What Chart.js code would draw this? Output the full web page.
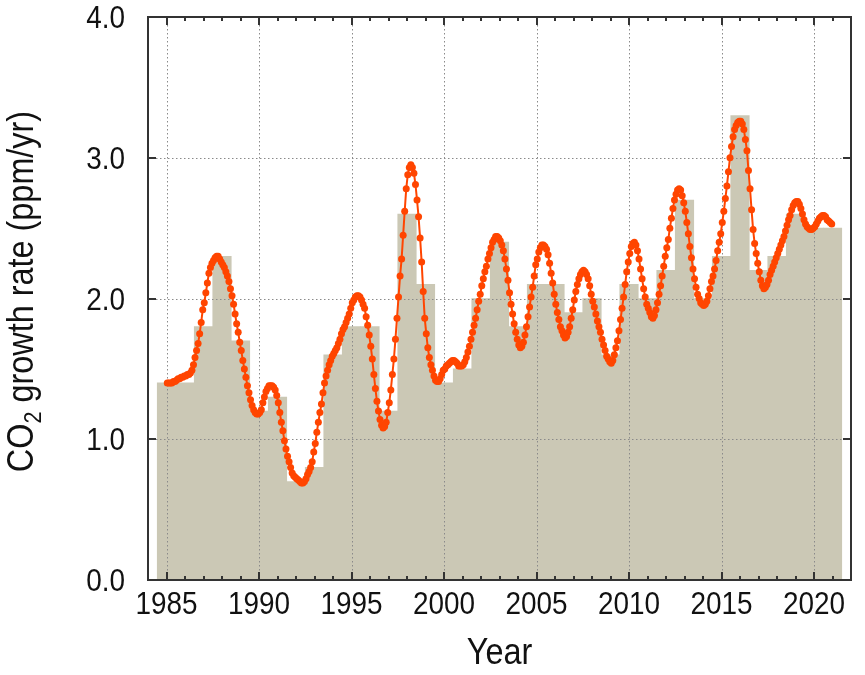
<!DOCTYPE html>
<html lang="en">
<head>
<meta charset="UTF-8">
<title>CO2 growth rate</title>
<style>
  html, body { margin: 0; padding: 0; background: #fff; }
  #wrap { position: relative; width: 865px; height: 675px; }
</style>
</head>
<body>
<div id="wrap"><canvas id="growth"></canvas></div>
<script src="https://cdn.jsdelivr.net/npm/chart.js"></script>
<script>
// annual growth rate, one bar per year (ppm/yr)
const years = [1985, 1986, 1987, 1988, 1989, 1990, 1991, 1992, 1993, 1994,
               1995, 1996, 1997, 1998, 1999, 2000, 2001, 2002, 2003, 2004,
               2005, 2006, 2007, 2008, 2009, 2010, 2011, 2012, 2013, 2014,
               2015, 2016, 2017, 2018, 2019, 2020, 2021];
const annualRate = [1.4, 1.4, 1.8, 2.3, 1.7, 1.2, 1.3, 0.7, 0.8, 1.6,
                    1.8, 1.8, 1.2, 2.6, 2.1, 1.4, 1.5, 2.0, 2.4, 1.8,
                    2.1, 2.1, 1.9, 2.0, 1.6, 2.1, 2.0, 2.2, 2.7, 2.0,
                    2.3, 3.3, 2.2, 2.3, 2.6, 2.5, 2.5];

// monthly growth rate (curve), Jan 1985 .. Dec 2020, one row per year
const curveFirstYear = 1985;
const monthlyRate = [
  1.40, 1.40, 1.40, 1.40, 1.41, 1.41, 1.42, 1.43, 1.43, 1.44, 1.44, 1.45, // 1985
  1.45, 1.46, 1.46, 1.47, 1.49, 1.53, 1.58, 1.63, 1.68, 1.75, 1.83, 1.92, // 1986
  1.97, 2.04, 2.11, 2.18, 2.22, 2.25, 2.27, 2.29, 2.30, 2.30, 2.28, 2.26, // 1987
  2.24, 2.22, 2.19, 2.16, 2.12, 2.07, 2.02, 1.96, 1.89, 1.82, 1.76, 1.69, // 1988
  1.63, 1.56, 1.50, 1.44, 1.38, 1.33, 1.28, 1.24, 1.21, 1.19, 1.18, 1.18, // 1989
  1.19, 1.21, 1.26, 1.30, 1.34, 1.36, 1.38, 1.38, 1.38, 1.37, 1.35, 1.31, // 1990
  1.26, 1.19, 1.12, 1.06, 0.99, 0.93, 0.88, 0.84, 0.80, 0.76, 0.74, 0.73, // 1991
  0.72, 0.71, 0.70, 0.69, 0.69, 0.70, 0.72, 0.75, 0.77, 0.80, 0.84, 0.91, // 1992
  0.97, 1.05, 1.12, 1.19, 1.25, 1.33, 1.40, 1.45, 1.49, 1.53, 1.56, 1.59, // 1993
  1.61, 1.63, 1.65, 1.68, 1.71, 1.75, 1.78, 1.80, 1.83, 1.86, 1.89, 1.93, // 1994
  1.97, 1.99, 2.01, 2.02, 2.02, 2.01, 1.99, 1.96, 1.93, 1.87, 1.81, 1.74, // 1995
  1.66, 1.57, 1.46, 1.36, 1.27, 1.20, 1.14, 1.10, 1.08, 1.09, 1.12, 1.19, // 1996
  1.26, 1.35, 1.46, 1.57, 1.71, 1.86, 2.01, 2.16, 2.28, 2.45, 2.62, 2.78, // 1997
  2.88, 2.93, 2.95, 2.93, 2.89, 2.81, 2.70, 2.58, 2.43, 2.26, 2.05, 1.86, // 1998
  1.75, 1.65, 1.58, 1.53, 1.49, 1.45, 1.42, 1.41, 1.41, 1.43, 1.46, 1.49, // 1999
  1.50, 1.52, 1.53, 1.54, 1.55, 1.56, 1.56, 1.55, 1.54, 1.52, 1.52, 1.52, // 2000
  1.53, 1.55, 1.58, 1.62, 1.66, 1.71, 1.76, 1.81, 1.86, 1.92, 1.98, 2.03, // 2001
  2.09, 2.14, 2.19, 2.23, 2.28, 2.32, 2.36, 2.40, 2.42, 2.44, 2.44, 2.43, // 2002
  2.41, 2.38, 2.34, 2.28, 2.21, 2.13, 2.04, 1.96, 1.89, 1.82, 1.76, 1.71, // 2003
  1.67, 1.65, 1.66, 1.69, 1.74, 1.80, 1.87, 1.94, 2.01, 2.08, 2.16, 2.24, // 2004
  2.28, 2.33, 2.36, 2.38, 2.38, 2.37, 2.35, 2.31, 2.25, 2.18, 2.11, 2.03, // 2005
  1.96, 1.90, 1.85, 1.80, 1.77, 1.74, 1.72, 1.73, 1.76, 1.80, 1.86, 1.92, // 2006
  1.99, 2.05, 2.10, 2.14, 2.17, 2.19, 2.20, 2.19, 2.17, 2.14, 2.09, 2.03, // 2007
  1.98, 1.94, 1.89, 1.84, 1.80, 1.76, 1.71, 1.67, 1.63, 1.59, 1.57, 1.55, // 2008
  1.54, 1.56, 1.60, 1.65, 1.70, 1.77, 1.85, 1.93, 2.01, 2.10, 2.19, 2.26, // 2009
  2.32, 2.37, 2.39, 2.40, 2.38, 2.34, 2.28, 2.21, 2.14, 2.07, 2.01, 1.96, // 2010
  1.93, 1.90, 1.87, 1.86, 1.88, 1.92, 1.97, 2.03, 2.09, 2.16, 2.23, 2.30, // 2011
  2.36, 2.42, 2.50, 2.57, 2.64, 2.70, 2.74, 2.77, 2.78, 2.77, 2.73, 2.68, // 2012
  2.62, 2.54, 2.46, 2.37, 2.29, 2.21, 2.14, 2.08, 2.03, 2.00, 1.97, 1.96, // 2013
  1.95, 1.96, 1.98, 2.02, 2.07, 2.12, 2.16, 2.21, 2.27, 2.34, 2.40, 2.46, // 2014
  2.54, 2.62, 2.71, 2.80, 2.90, 3.00, 3.08, 3.15, 3.20, 3.23, 3.25, 3.26, // 2015
  3.26, 3.24, 3.20, 3.13, 3.05, 2.91, 2.78, 2.63, 2.49, 2.39, 2.32, 2.25, // 2016
  2.19, 2.13, 2.09, 2.07, 2.08, 2.10, 2.13, 2.17, 2.20, 2.23, 2.26, 2.29, // 2017
  2.32, 2.35, 2.38, 2.41, 2.44, 2.48, 2.52, 2.56, 2.59, 2.63, 2.66, 2.68, // 2018
  2.69, 2.69, 2.67, 2.64, 2.60, 2.56, 2.53, 2.51, 2.50, 2.49, 2.49, 2.50, // 2019
  2.51, 2.53, 2.55, 2.57, 2.58, 2.59, 2.59, 2.58, 2.56, 2.55, 2.54, 2.53  // 2020
];

const xTickYears = [1985, 1990, 1995, 2000, 2005, 2010, 2015, 2020];
const yTickValues = [0, 1, 2, 3, 4];

const barColor = 'rgb(203, 200, 181)';
const curveColor = 'rgb(255, 69, 0)';
const fontFamily = '"Liberation Sans", Arial, sans-serif';
const textSqueeze = 0.9;   // lettering in the original is a bit condensed

// points at mid-month
const curvePoints = monthlyRate.map((v, i) => ({ x: curveFirstYear + (i + 0.5) / 12, y: v }));
const barPoints = years.map((yr, i) => ({ x: yr, y: annualRate[i] }));

// condensed text helper
function squeezedText(ctx, text, x, y, align) {
    ctx.save();
    ctx.translate(x, y);
    ctx.scale(textSqueeze, 1);
    ctx.textAlign = align;
    ctx.fillText(text, 0, 0);
    ctx.restore();
}

// dotted grid between bars and curve, inward ticks, frame and all lettering
const frameAndGrid = {
    id: 'frameAndGrid',
    afterDatasetDraw(chart, args) {
        if (args.index !== 1) return;
        const { ctx, chartArea: a, scales: { x, y } } = chart;
        ctx.save();
        ctx.strokeStyle = '#8a8a8a';
        ctx.lineWidth = 1;
        ctx.setLineDash([1.5, 2.5]);
        ctx.beginPath();
        xTickYears.forEach(v => {
            const px = Math.round(x.getPixelForValue(v)) + 0.5;
            ctx.moveTo(px, a.top);
            ctx.lineTo(px, a.bottom);
        });
        yTickValues.forEach(v => {
            if (v <= y.min || v >= y.max) return;
            const py = Math.round(y.getPixelForValue(v)) + 0.5;
            ctx.moveTo(a.left, py);
            ctx.lineTo(a.right, py);
        });
        ctx.stroke();
        ctx.restore();
    },
    afterDraw(chart) {
        const { ctx, chartArea: a, scales: { x, y } } = chart;
        ctx.save();
        ctx.strokeStyle = '#333';
        ctx.lineWidth = 2;
        ctx.beginPath();
        // yearly ticks, longer at labelled years
        for (let yr = Math.ceil(x.min); yr <= x.max; yr++) {
            if (yr <= x.min || yr >= x.max) continue;
            const px = Math.round(x.getPixelForValue(yr));
            const len = xTickYears.includes(yr) ? 8 : 4;
            ctx.moveTo(px, a.bottom);
            ctx.lineTo(px, a.bottom - len);
            ctx.moveTo(px, a.top);
            ctx.lineTo(px, a.top + len);
        }
        yTickValues.forEach(v => {
            if (v <= y.min || v >= y.max) return;
            const py = Math.round(y.getPixelForValue(v));
            ctx.moveTo(a.left, py);
            ctx.lineTo(a.left + 8, py);
            ctx.moveTo(a.right, py);
            ctx.lineTo(a.right - 8, py);
        });
        ctx.stroke();
        ctx.strokeRect(a.left, a.top, a.right - a.left, a.bottom - a.top);

        // tick labels
        ctx.fillStyle = '#111';
        ctx.textBaseline = 'alphabetic';
        ctx.font = '31px ' + fontFamily;
        xTickYears.forEach(v => {
            squeezedText(ctx, String(v), x.getPixelForValue(v), a.bottom + 34, 'center');
        });
        yTickValues.forEach(v => {
            squeezedText(ctx, v.toFixed(1), a.left - 23, y.getPixelForValue(v) + 11, 'right');
        });

        // x title
        ctx.font = '36px ' + fontFamily;
        squeezedText(ctx, 'Year', (a.left + a.right) / 2, a.bottom + 84, 'center');

        // y title with subscript 2
        const mainFont = '36px ' + fontFamily;
        const subFont = '24px ' + fontFamily;
        const p1 = 'CO', p2 = '2', p3 = ' growth rate (ppm/yr)';
        ctx.font = mainFont;
        const w1 = ctx.measureText(p1).width, w3 = ctx.measureText(p3).width;
        ctx.font = subFont;
        const w2 = ctx.measureText(p2).width;
        const total = w1 + w2 + w3;
        ctx.translate(33, (a.top + a.bottom) / 2 - 7);
        ctx.rotate(-Math.PI / 2);
        ctx.scale(textSqueeze, 1);
        let cx = -total / 2;
        ctx.font = mainFont;
        ctx.fillText(p1, cx, 0);
        cx += w1;
        ctx.font = subFont;
        ctx.fillText(p2, cx, 8);
        cx += w2;
        ctx.font = mainFont;
        ctx.fillText(p3, cx, 0);
        ctx.restore();
    }
};

new Chart(document.getElementById('growth').getContext('2d'), {
    type: 'line',
    data: {
        datasets: [
            {
                type: 'line',
                label: 'monthly',
                data: curvePoints,
                borderColor: curveColor,
                backgroundColor: curveColor,
                borderWidth: 2,
                pointRadius: 3.5,
                pointBorderWidth: 0,
                pointBackgroundColor: curveColor,
                tension: 0,
                fill: false
            },
            {
                type: 'bar',
                label: 'annual',
                data: barPoints,
                backgroundColor: barColor,
                borderWidth: 0,
                barPercentage: 1.0,
                categoryPercentage: 1.0
            }
        ]
    },
    options: {
        responsive: true,
        maintainAspectRatio: false,
        animation: false,
        layout: { padding: { left: 0, right: 14, top: 17, bottom: 0 } },
        plugins: {
            legend: { display: false },
            tooltip: { enabled: false }
        },
        scales: {
            x: {
                type: 'linear',
                min: 1984,
                max: 2022,
                offset: false,
                grid: { display: false, drawTicks: false },
                border: { display: false },
                afterBuildTicks: (scale) => { scale.ticks = xTickYears.map(v => ({ value: v })); },
                afterFit: (scale) => {
                    scale.height = 95;
                    scale.paddingLeft = 0;
                    scale.paddingRight = 0;
                },
                ticks: { display: false }
            },
            y: {
                min: 0,
                max: 4,
                grid: { display: false, drawTicks: false },
                border: { display: false },
                afterBuildTicks: (scale) => { scale.ticks = yTickValues.map(v => ({ value: v })); },
                afterFit: (scale) => {
                    scale.width = 148;
                    scale.paddingTop = 0;
                    scale.paddingBottom = 0;
                },
                ticks: { display: false }
            }
        }
    },
    plugins: [frameAndGrid]
});
</script>
</body>
</html>
